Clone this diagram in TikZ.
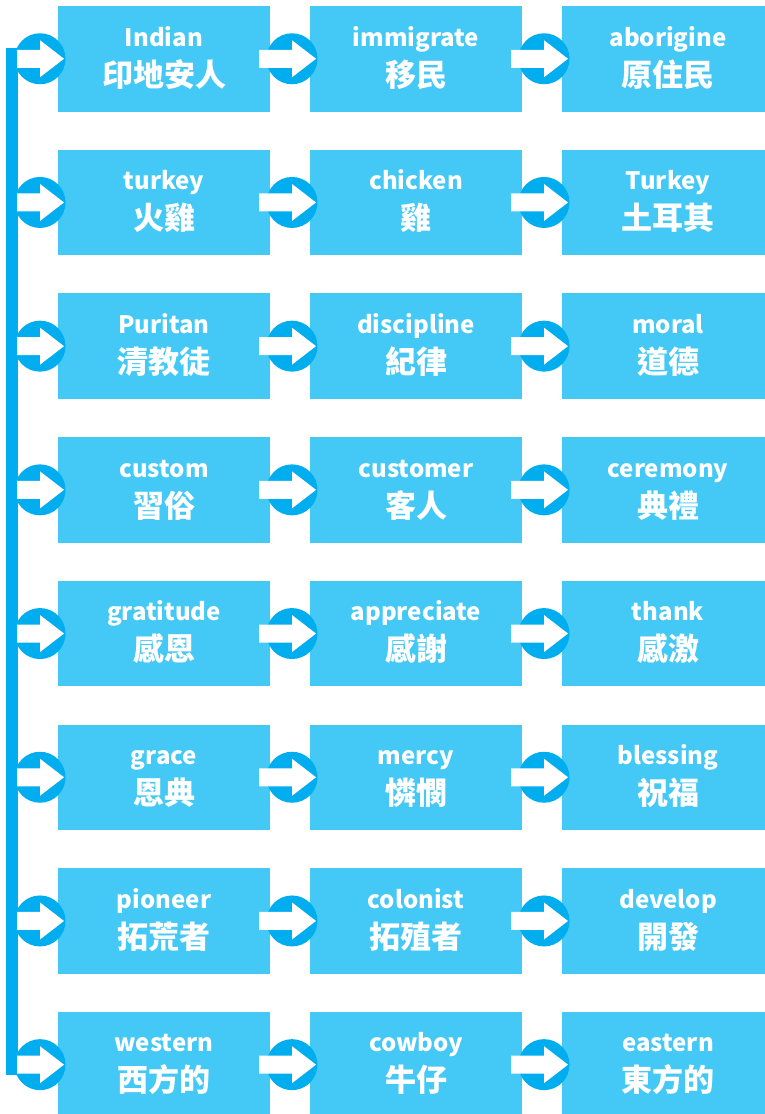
\documentclass[tikz,border=0pt]{standalone}
\usepackage{fontspec}
\setmainfont{Noto Sans CJK TC}
\usetikzlibrary{calc}
\definecolor{boxblue}{RGB}{68,200,245}
\definecolor{dkblue}{RGB}{0,174,239}
\newcommand\myarrow[3]{%
  \fill[dkblue] (#1,#2) circle (25.5);
  \fill[white] (#3,#2-9) -- (#1,#2-9) -- (#1,#2-18.5) -- (#1+24,#2) -- (#1,#2+18.5) -- (#1,#2+9) -- (#3,#2+9) -- cycle;}
\begin{document}
\begin{tikzpicture}[x=1pt,y=-1pt,
  wordbox/.style={fill=boxblue,draw=none,minimum width=212pt,minimum height=105.5pt,inner sep=0pt,outer sep=0pt},
  en/.style={text=white,anchor=base,inner sep=0pt,font=\fontsize{24}{24}\selectfont\bfseries},
  zh/.style={text=white,anchor=base,inner sep=0pt,font=\fontsize{31}{31}\selectfont\bfseries}]
\clip (0,0) rectangle (765,1114);
\fill[dkblue] (6,48.25) rectangle (17.5,1075.25);
\foreach \ea/\ca/\eb/\cb/\ec/\cc [count=\i from 0] in {
  Indian/印地安人/immigrate/移民/aborigine/原住民,
  turkey/火雞/chicken/雞/Turkey/土耳其,
  Puritan/清教徒/discipline/紀律/moral/道德,
  custom/習俗/customer/客人/ceremony/典禮,
  gratitude/感恩/appreciate/感謝/thank/感激,
  grace/恩典/mercy/憐憫/blessing/祝福,
  pioneer/拓荒者/colonist/拓殖者/develop/開發,
  western/西方的/cowboy/牛仔/eastern/東方的}{
  \pgfmathsetmacro\ty{6+143.7*\i}
  \pgfmathsetmacro\cy{\ty+52.75}
  \node[wordbox] (a\i) at (164,\cy) {};
  \node[wordbox] (b\i) at (416,\cy) {};
  \node[wordbox] (c\i) at (668,\cy) {};
  \node[en] (ea\i) at (164,\ty+40) {\ea};
  \node[zh] (za\i) at (164,\ty+80) {\ca};
  \node[en] (eb\i) at (416,\ty+40) {\eb};
  \node[zh] (zb\i) at (416,\ty+80) {\cb};
  \node[en] (ec\i) at (668,\ty+40) {\ec};
  \node[zh] (zc\i) at (668,\ty+80) {\cc};
  \myarrow{40}{\cy}{17}
  \myarrow{292}{\cy}{259}
  \myarrow{544}{\cy}{511}
}
\end{tikzpicture}
\end{document}
